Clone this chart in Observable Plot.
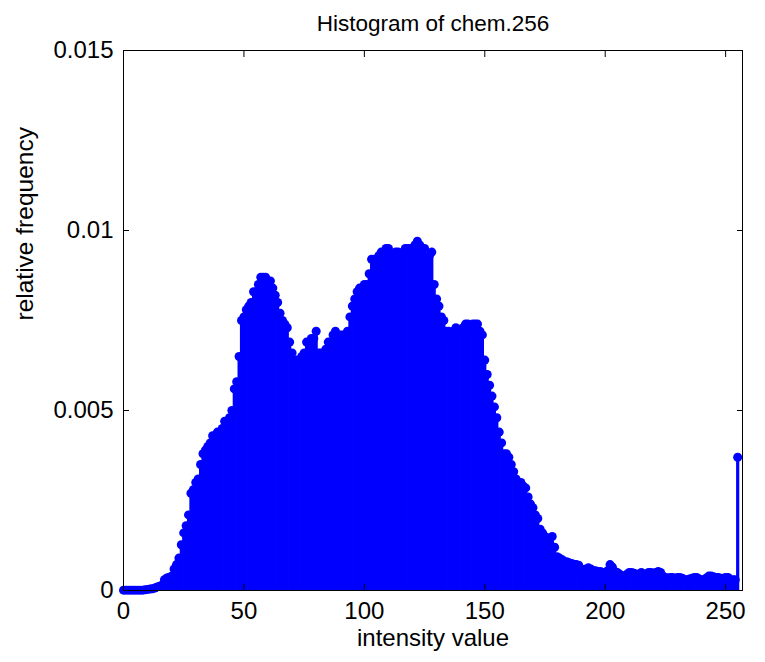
<!DOCTYPE html>
<html>
<head>
<meta charset="utf-8">
<script src="https://cdn.jsdelivr.net/npm/d3@7"></script>
<script src="https://cdn.jsdelivr.net/npm/@observablehq/plot@0.6"></script>
<style>
  html, body { margin: 0; padding: 0; background: #fff; }
</style>
</head>
<body>
<div id="chart"></div>
<script>
const titleText = "Histogram of chem.256";
const xLabel = "intensity value";
const yLabel = "relative frequency";
const xTicks = [0, 50, 100, 150, 200, 250];
const yTicks = [0, 0.005, 0.01, 0.015];
const yTickLabels = ["0", "0.005", "0.01", "0.015"];

// relative frequency for intensity values 0..255
const freq = [
  0.00001, 0.00001, 0.00001, 0.00001, 0.00001, 0.00001, 0.00001, 0.00001, 0.00001, 0.00002,
  0.00003, 0.00004, 0.00005, 0.00007, 0.0001, 0.00012, 0.00015, 0.0003, 0.00035, 0.00037,
  0.0004, 0.0006, 0.00072, 0.0009, 0.00127, 0.0016, 0.0018, 0.0021, 0.0027, 0.0028,
  0.0030, 0.0031, 0.0035, 0.0038, 0.0039, 0.0040, 0.0041, 0.0043, 0.0043, 0.0044,
  0.0044, 0.0045, 0.0047, 0.0047, 0.0048, 0.0050, 0.0056, 0.0058, 0.0065, 0.0075,
  0.0076, 0.0078, 0.0079, 0.0080, 0.0083, 0.0083, 0.0085, 0.0087, 0.0087, 0.0087,
  0.0086, 0.0086, 0.0084, 0.0082, 0.0080, 0.0077, 0.0075, 0.0074, 0.0073, 0.0069,
  0.0066, 0.0064, 0.0064, 0.0064, 0.0065, 0.0066, 0.0069, 0.0069, 0.0070, 0.0070,
  0.0072, 0.0066, 0.0066, 0.0066, 0.0067, 0.0069, 0.0069, 0.0071, 0.0072, 0.0071,
  0.0071, 0.0071, 0.0071, 0.0072, 0.0076, 0.0079, 0.0081, 0.0083, 0.0084, 0.0084,
  0.0085, 0.0085, 0.0088, 0.0092, 0.0092, 0.0092, 0.0093, 0.0094, 0.0094, 0.0095,
  0.0095, 0.0093, 0.0093, 0.0094, 0.0094, 0.0093, 0.0094, 0.0095, 0.0095, 0.0095,
  0.0095, 0.0096, 0.0097, 0.0096, 0.0095, 0.0095, 0.0092, 0.0093, 0.0094, 0.0085,
  0.0081, 0.0079, 0.0076, 0.0075, 0.0072, 0.0072, 0.0071, 0.0072, 0.0073, 0.0072,
  0.0071, 0.0073, 0.0074, 0.0074, 0.0073, 0.0074, 0.0074, 0.0074, 0.0072, 0.0071,
  0.0064, 0.0060, 0.0057, 0.0054, 0.0051, 0.0048, 0.0044, 0.0041, 0.0038, 0.0038,
  0.0037, 0.0035, 0.0033, 0.0031, 0.0030, 0.0030, 0.0029, 0.00285, 0.0026, 0.0024,
  0.0023, 0.0021, 0.0020, 0.0017, 0.0016, 0.0015, 0.0014, 0.0013, 0.0015, 0.0012,
  0.00094, 0.0009, 0.00086, 0.0008, 0.0008, 0.00077, 0.00075, 0.00073, 0.00072, 0.0007,
  0.0006, 0.00058, 0.0006, 0.00063, 0.0006, 0.00055, 0.00055, 0.00052, 0.00053, 0.0005,
  0.0005, 0.00055, 0.00072, 0.00065, 0.00053, 0.0005, 0.00045, 0.0004, 0.0004, 0.00045,
  0.0005, 0.0005, 0.00048, 0.00045, 0.00045, 0.0005, 0.00045, 0.00045, 0.0005, 0.0005,
  0.00048, 0.0005, 0.00053, 0.0005, 0.0004, 0.00036, 0.00035, 0.00036, 0.00036, 0.00034,
  0.00036, 0.00036, 0.00034, 0.0003, 0.0003, 0.00032, 0.00034, 0.00036, 0.00036, 0.00032,
  0.0003, 0.0003, 0.00035, 0.0004, 0.0004, 0.00038, 0.00036, 0.00036, 0.00034, 0.00034,
  0.00036, 0.00036, 0.0003, 0.0003, 0.0003, 0.0037
];

const data = freq.map((v, i) => ({x: i, y: v}));
const blue = "#0000ff";
const font = "'Liberation Sans', Arial, Helvetica, sans-serif";

const chart = Plot.plot({
  width: 765,
  height: 662,
  marginLeft: 123,
  marginRight: 23,
  marginTop: 50,
  marginBottom: 72,
  style: {fontFamily: font, fontSize: "24px", background: "#fff", color: "#000"},
  x: {domain: [0, 257], label: null},
  y: {domain: [0, 0.015], label: null},
  marks: [
    Plot.ruleX(data, {x: "x", y1: 0, y2: "y", stroke: blue, strokeWidth: 3.2}),
    Plot.dot(data, {x: "x", y: "y", r: 4.5, fill: blue, stroke: "none"}),
    Plot.frame({stroke: "#000", strokeWidth: 1}),
    Plot.axisX({ticks: xTicks, anchor: "bottom", tickSize: -6, tickPadding: 17, fontSize: 24, label: null, tickFormat: d => String(d)}),
    Plot.axisX({ticks: xTicks, anchor: "top", tickSize: -6, tickFormat: () => "", label: null}),
    Plot.axisY({ticks: yTicks, anchor: "left", tickSize: -6, tickPadding: 16, fontSize: 24, label: null, tickFormat: (d, i) => yTickLabels[i]}),
    Plot.axisY({ticks: yTicks, anchor: "right", tickSize: -6, tickFormat: () => "", label: null}),
    Plot.text([titleText], {text: d => d, frameAnchor: "top", dy: -35, fontSize: 22.5}),
    Plot.text([xLabel], {text: d => d, frameAnchor: "bottom", dy: 55, fontSize: 24}),
    Plot.text([yLabel], {text: d => d, frameAnchor: "left", dx: -98, rotate: -90, fontSize: 24.5})
  ]
});
document.getElementById("chart").appendChild(chart);
</script>
</body>
</html>
